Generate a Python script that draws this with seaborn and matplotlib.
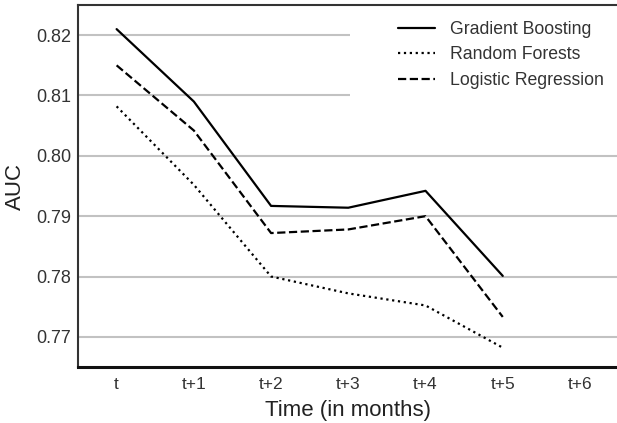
import matplotlib
matplotlib.use("Agg")
import matplotlib.pyplot as plt
from matplotlib.patches import Rectangle
import seaborn as sns
import numpy as np

months = ["t", "t+1", "t+2", "t+3", "t+4", "t+5", "t+6"]
gb_auc = [0.821, 0.809, 0.7917, 0.7914, 0.7942, 0.7801]
rf_auc = [0.8082, 0.7952, 0.7800, 0.7772, 0.7752, 0.7682]
lr_auc = [0.8150, 0.8042, 0.7872, 0.7878, 0.7900, 0.7733]
y_ticks = [0.77, 0.78, 0.79, 0.80, 0.81, 0.82]

sns.set_style("white")
plt.rcParams["font.family"] = ["Liberation Sans", "DejaVu Sans"]

fig = plt.figure(figsize=(6.17, 4.23), dpi=100)
ax = fig.add_axes([78 / 617, 1 - 367 / 423, (618.6 - 78) / 617, (367 - 5) / 423])

pos = np.arange(len(gb_auc))
series = [
    ("Gradient Boosting", gb_auc, "-"),
    ("Random Forests", rf_auc, ":"),
    ("Logistic Regression", lr_auc, "--"),
]
for name, vals, ls in series:
    sns.lineplot(x=pos, y=vals, ax=ax, color="black", linestyle=ls, lw=1.6, label=name, zorder=3)

ax.set_xlim(-0.5, 6.5)
ax.set_ylim(0.765, 0.825)
ax.set_xticks(np.arange(len(months)))
ax.set_xticklabels(months)
ax.set_yticks(y_ticks)
ax.set_yticklabels([f"{v:.2f}" for v in y_ticks])
ax.yaxis.grid(True, color="#c2c2c2", lw=1.5, zorder=0)
ax.xaxis.grid(False)
ax.set_axisbelow(True)
ax.tick_params(axis="x", length=0, labelsize=12.5, colors="#333333", pad=7)
ax.tick_params(axis="y", length=0, labelsize=13, colors="#333333", pad=5)

# white box behind the legend (covers the grid lines there)
ax.add_patch(Rectangle((0.503, 0.70), 0.497, 0.30, transform=ax.transAxes,
                       facecolor="white", edgecolor="none", zorder=1))

for s in ["left", "top", "right"]:
    ax.spines[s].set_color("#333333")
    ax.spines[s].set_linewidth(1.5)
ax.spines["bottom"].set_color("#111111")
ax.spines["bottom"].set_linewidth(2.2)

ax.set_xlabel("Time (in months)", fontsize=16, color="#222222", labelpad=6)
ax.set_ylabel("AUC", fontsize=16, color="#222222")
ax.yaxis.set_label_coords(-0.097, 0.5)

leg = ax.legend(loc="upper right", bbox_to_anchor=(0.972, 0.956), frameon=False, fontsize=12.7,
                handlelength=2.1, handletextpad=0.85, labelspacing=0.48, borderpad=0,
                borderaxespad=0)
for t in leg.get_texts():
    t.set_color("#333333")

fig.savefig("out.png", dpi=100)
